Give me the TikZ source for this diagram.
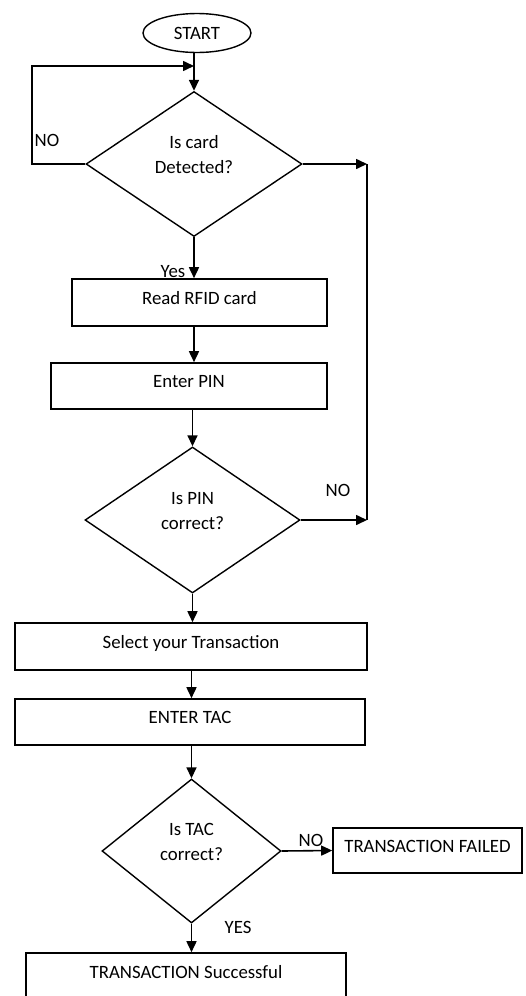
\documentclass[tikz,border=0pt]{standalone}
\usepackage{fontspec}
\setmainfont{Carlito}
\usetikzlibrary{shapes.geometric,arrows.meta}

\begin{document}
\begin{tikzpicture}[x=1pt,y=-1pt,
  every node/.style={font=\fontsize{18.8}{25}\selectfont},
  terminal/.style={draw, ellipse, line width=1.4pt, inner sep=0pt},
  decision/.style={draw, diamond, line width=1.4pt, inner sep=0pt},
  process/.style={draw, rectangle, line width=1.6pt, inner sep=0pt,
                  text height=13pt, text depth=9.5pt},
  qtext/.style={align=center, inner sep=0pt},
  tag/.style={inner sep=0pt},
  flow/.style={line width=1.6pt, -{Triangle[length=11pt,width=10pt]}},
  rail/.style={line width=1.6pt}]

\useasboundingbox (0,0) rectangle (526,996);
\clip (0,0) rectangle (526,996);

% shapes
\node[terminal, minimum width=108pt, minimum height=39pt] (start) at (197,33) {START};

\node[decision, minimum width=216pt, minimum height=145pt] (d1) at (194,164) {};
\node[qtext] (d1t) at (194,155) {Is card\\Detected?};

\node[process, minimum width=255pt, minimum height=47pt] (read) at (199.5,302.5) {Read RFID card};
\node[process, minimum width=276pt, minimum height=46pt] (pin) at (189,386) {Enter PIN};

\node[decision, minimum width=215pt, minimum height=146pt] (d2) at (192.5,520) {};
\node[qtext] (d2t) at (192.5,511) {Is PIN\\correct?};

\node[process, minimum width=352pt, minimum height=47pt] (sel) at (191,646.5) {Select your Transaction};
\node[process, minimum width=350pt, minimum height=46pt] (tac) at (190,722) {ENTER TAC};

\node[decision, minimum width=179pt, minimum height=144pt] (d3) at (191.5,851) {};
\node[qtext] (d3t) at (191.5,842) {Is TAC\\correct?};

\node[process, minimum width=189pt, minimum height=45pt] (fail) at (427.5,850.5) {TRANSACTION FAILED};
\node[process, minimum width=320pt, minimum height=48pt] (ok) at (186,977) {TRANSACTION Successful};

% helper points for the loop and the right-hand rail
\coordinate (loopc) at (32,66);
\coordinate (railx) at (367,0);

% connectors
\draw[flow] (d1.north |- start.south) -- (d1.north);
\draw[flow] (d1.west) -| (loopc) -- (loopc -| d1.north);
\draw[flow] (d1.east) -- (d1.east -| railx);
\draw[flow] (d2.east) -- (d2.east -| railx);
\draw[rail] (d1.east -| railx) -- (d2.east -| railx);
\draw[flow] (d1.south) -- (d1.south |- read.north);
\draw[flow] (d1.south |- read.south) -- (d1.south |- pin.north);
\draw[flow] (d2.north |- pin.south) -- (d2.north);
\draw[flow] (d2.south) -- (d2.south |- sel.north);
\draw[flow] (d3.north |- sel.south) -- (d3.north |- tac.north);
\draw[flow] (d3.north |- tac.south) -- (d3.north);
\draw[flow] (d3.east) -- (fail.west);
\draw[flow] (d3.south) -- (d3.south |- ok.north);

% branch labels
\node[tag] (no1) at (47,140) {NO};
\node[tag] (yes1) at (173,272) {Yes};
\node[tag] (no2) at (338,490) {NO};
\node[tag] (no3) at (311,840) {NO};
\node[tag] (yes3) at (238,927) {YES};
\end{tikzpicture}
\end{document}
